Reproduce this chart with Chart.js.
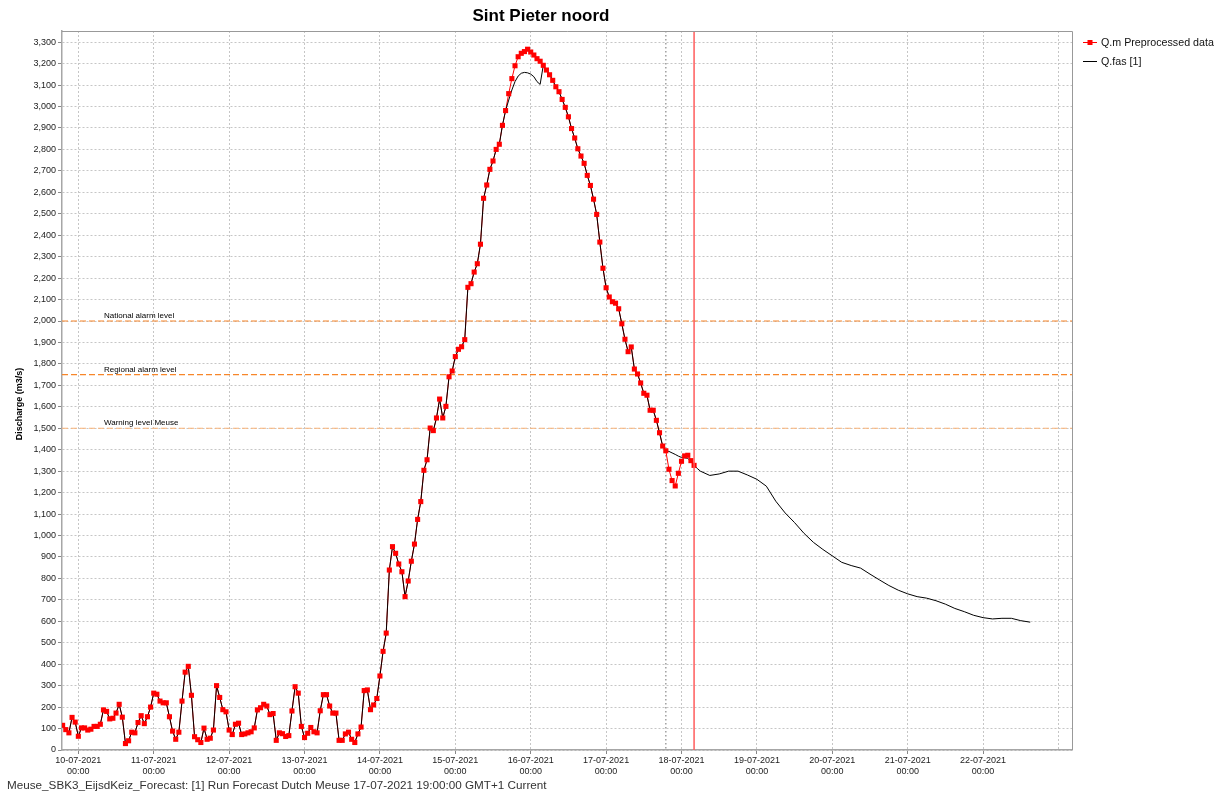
<!DOCTYPE html>
<html>
<head>
<meta charset="utf-8">
<script src="https://cdn.jsdelivr.net/npm/chart.js@4.4.0/dist/chart.umd.min.js"></script>
<style>
  html, body { margin: 0; padding: 0; background: #fff; }
  #wrap { width: 1218px; height: 798px; }
</style>
</head>
<body>
<div id="wrap"><canvas id="grafico" width="1218" height="798"></canvas></div>
<script>
// x = uren vanaf 10-07-2021 00:00
var dagLabels = ['10-07-2021', '11-07-2021', '12-07-2021', '13-07-2021', '14-07-2021', '15-07-2021', '16-07-2021',
  '17-07-2021', '18-07-2021', '19-07-2021', '20-07-2021', '21-07-2021', '22-07-2021'];

// Q.m Preprocessed data, uurwaarden vanaf 09-07-2021 19:00
var qmStart = -5;
var qmWaarden = [
  115, 95, 80, 152, 130,
  64, 103, 103, 93, 97, 110, 110, 120, 187, 180, 145, 148, 172, 213, 153, 30, 43, 83, 80, 128, 160, 123, 155, 200,
  265, 260, 228, 220, 220, 155, 88, 50, 83, 228, 363, 390, 255, 62, 48, 35, 102, 50, 55, 93, 300, 245, 188, 178,
  93, 72, 120, 125, 72, 75, 80, 85, 103, 187, 197, 213, 205, 165, 170, 45, 80, 76, 63, 67, 182, 295, 265, 110,
  58, 78, 105, 85, 80, 183, 258, 258, 205, 172, 172, 45, 45, 75, 83, 50, 35, 75, 107, 277, 280, 188, 210, 240,
  345, 460, 545, 839, 948, 917, 867, 831, 715, 788, 880, 960, 1075, 1158, 1304, 1353, 1501, 1489, 1548, 1636, 1548, 1602, 1740, 1767,
  1834, 1868, 1880, 1913, 2157, 2174, 2228, 2267, 2358, 2572, 2634, 2707, 2746, 2800, 2824, 2912, 2981, 3060, 3130, 3190, 3232, 3248, 3256, 3267,
  3254, 3240, 3223, 3211, 3192, 3170, 3148, 3122, 3092, 3069, 3033, 2996, 2952, 2897, 2853, 2803, 2769, 2735, 2679, 2632, 2568, 2497, 2368, 2246,
  2155, 2112, 2090, 2083, 2057, 1987, 1915, 1857, 1879, 1776, 1753, 1711, 1663, 1654, 1584, 1584, 1537, 1479, 1417, 1395, 1309, 1256, 1231, 1290,
  1346, 1371, 1374, 1349, 1327
];

// Q.fas [1]: volgt Q.m, behalve rond de top en na T0
var fasTopStart = 137;
var fasTop = [3030, 3077, 3116, 3142, 3155, 3159, 3157, 3151, 3139, 3116, 3103];
var fasEindeUren = [188, 189, 190, 191, 192, 193, 194, 195, 196, 197, 198, 201, 204, 207, 210, 213, 216, 219, 222, 225,
  228, 231, 234, 237, 240, 243, 246, 249, 252, 255, 258, 261, 264, 267, 270, 273, 276, 279, 282, 285,
  288, 291, 294, 297, 300, 303];
var fasEindeWaarden = [1392, 1385, 1378, 1370, 1364, 1362, 1360, 1345, 1327, 1313, 1300, 1280, 1287, 1300, 1300, 1282, 1262, 1230, 1160, 1105,
  1060, 1010, 968, 935, 905, 875, 860, 848, 820, 793, 767, 745, 728, 715, 708, 696, 680, 660, 645, 628,
  617, 611, 614, 614, 603, 596];

var alarmNiveaus = [2000, 1750, 1500];
var alarmNamen = ['National alarm level', 'Regional alarm level', 'Warning level Meuse'];
var alarmKleuren = ['#f7862a', '#f7862a', '#f9b47a'];

var t0Uur = 187;    // 17-07-2021 19:00
var nuUur = 196;    // rode lijn

var xMin = -5.2, xMax = 316.3;
var lettertype = "'Liberation Sans', Arial, sans-serif";

// datasets opbouwen
var qmPunten = qmWaarden.map(function (v, i) { return { x: qmStart + i, y: v }; });
var fasPunten = [];
for (var i = 0; i < qmWaarden.length; i++) {
  var uur = qmStart + i;
  if (uur > t0Uur) break;
  var v = qmWaarden[i];
  if (uur >= fasTopStart && uur < fasTopStart + fasTop.length) v = fasTop[uur - fasTopStart];
  fasPunten.push({ x: uur, y: v });
}
for (var j = 0; j < fasEindeUren.length; j++) fasPunten.push({ x: fasEindeUren[j], y: fasEindeWaarden[j] });

var datasets = [
  { label: 'Q.fas [1]', data: fasPunten, borderColor: '#000', borderWidth: 1, pointRadius: 0, order: 2 },
  { label: 'Q.m lijn', data: qmPunten, borderColor: '#ff0000', borderWidth: 1, pointRadius: 0, order: 3 },
  { label: 'Q.m Preprocessed data', data: qmPunten, showLine: false, pointStyle: 'rect', pointRadius: 3.6,
    pointBackgroundColor: '#ff0000', pointBorderWidth: 0, order: 1 }
];
alarmNiveaus.forEach(function (n, k) {
  datasets.push({ label: alarmNamen[k], data: [{ x: xMin, y: n }, { x: xMax, y: n }], borderColor: alarmKleuren[k],
    borderWidth: 1.2, borderDash: [6, 3], pointRadius: 0, order: 4 });
});

// extra tekeningen: titel, legenda, lijnen, teksten
var extra = {
  id: 'extra',
  beforeDatasetsDraw: function (chart) {
    var c = chart.ctx, a = chart.chartArea, sx = chart.scales.x;
    c.save();
    var xt = sx.getPixelForValue(t0Uur);
    c.strokeStyle = '#a0a0a0'; c.lineWidth = 1.5; c.setLineDash([1.5, 2.5]);
    c.beginPath(); c.moveTo(xt, a.top); c.lineTo(xt, a.bottom); c.stroke();
    c.restore();
  },
  afterDatasetsDraw: function (chart) {
    var c = chart.ctx, a = chart.chartArea, sx = chart.scales.x, sy = chart.scales.y;
    c.save();
    var xn = sx.getPixelForValue(nuUur);
    c.strokeStyle = '#ff5c5c'; c.lineWidth = 1.5;
    c.beginPath(); c.moveTo(xn, a.top); c.lineTo(xn, a.bottom); c.stroke();
    // alarm teksten
    c.fillStyle = '#000'; c.font = '8px ' + lettertype; c.textBaseline = 'bottom'; c.textAlign = 'left';
    alarmNiveaus.forEach(function (n, k) { c.fillText(alarmNamen[k], a.left + 42, sy.getPixelForValue(n) - 1); });
    // kader
    c.strokeStyle = '#999'; c.lineWidth = 1;
    c.beginPath(); c.moveTo(a.left, a.top + 0.5); c.lineTo(a.right + 0.5, a.top + 0.5); c.lineTo(a.right + 0.5, a.bottom); c.stroke();
    c.restore();
  },
  afterDraw: function (chart) {
    var c = chart.ctx, a = chart.chartArea;
    c.save();
    c.fillStyle = '#000';
    c.font = 'bold 17px ' + lettertype; c.textAlign = 'center'; c.textBaseline = 'middle';
    c.fillText('Sint Pieter noord', 541, 16);
    // y-as titel
    c.save();
    c.translate(20, 404); c.rotate(-Math.PI / 2);
    c.font = 'bold 9px ' + lettertype; c.fillText('Discharge (m3/s)', 0, 0);
    c.restore();
    // legenda
    var lx = a.right + 11;
    c.textAlign = 'left'; c.font = '10.7px ' + lettertype; c.fillStyle = '#111';
    c.strokeStyle = '#ff0000'; c.lineWidth = 1;
    c.beginPath(); c.moveTo(lx, 42.5); c.lineTo(lx + 14, 42.5); c.stroke();
    c.fillStyle = '#ff0000'; c.fillRect(lx + 4.5, 40, 5, 5);
    c.fillStyle = '#111'; c.fillText('Q.m Preprocessed data', lx + 18, 43);
    c.strokeStyle = '#000';
    c.beginPath(); c.moveTo(lx, 61.5); c.lineTo(lx + 14, 61.5); c.stroke();
    c.fillText('Q.fas [1]', lx + 18, 62);
    // voettekst
    c.font = '11.7px ' + lettertype; c.fillStyle = '#333';
    c.fillText('Meuse_SBK3_EijsdKeiz_Forecast: [1] Run Forecast Dutch Meuse 17-07-2021 19:00:00 GMT+1 Current', 7, 786);
    c.restore();
  }
};

var raster = {
  color: '#c6c6c6', tickLength: 4, tickBorderDash: [],
  tickColor: function (ctx) { return ctx.tick && ctx.tick.value > 300 ? 'rgba(0,0,0,0)' : '#888'; }
};
var rand = { dash: [2, 2], color: '#a6a6a6', width: 1.5 };

var ctx = document.getElementById('grafico').getContext('2d');
var grafiek = new Chart(ctx, {
  type: 'line',
  data: { datasets: datasets },
  options: {
    responsive: false,
    animation: false,
    parsing: false,
    layout: { padding: { left: 0, top: 31, right: 146, bottom: 0 } },
    plugins: { legend: { display: false }, title: { display: false }, tooltip: { enabled: false } },
    scales: {
      x: {
        type: 'linear', min: xMin, max: xMax,
        grid: raster, border: rand,
        ticks: {
          stepSize: 24, includeBounds: false, autoSkip: false, maxRotation: 0, minRotation: 0, padding: 1,
          color: '#222', font: { size: 9, family: lettertype },
          callback: function (v) {
            var k = Math.round(v / 24);
            return k < dagLabels.length ? [dagLabels[k], '00:00'] : '';
          }
        },
        afterFit: function (s) { s.height = 48; }
      },
      y: {
        min: 0, max: 3352,
        grid: { color: '#c6c6c6', tickLength: 4, tickBorderDash: [], tickColor: '#888' }, border: rand,
        ticks: {
          stepSize: 100, includeBounds: false, padding: 2,
          color: '#222', font: { size: 9, family: lettertype },
          callback: function (v) { return v.toLocaleString('en-US'); }
        },
        afterFit: function (s) { s.width = 62; }
      }
    }
  },
  plugins: [extra]
});
</script>
</body>
</html>
